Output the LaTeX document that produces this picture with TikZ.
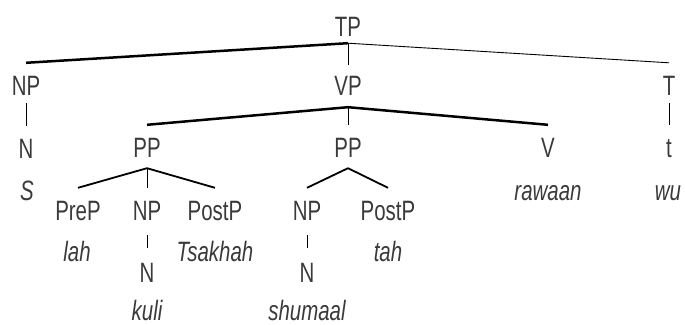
\documentclass[tikz,border=0pt]{standalone}
\usepackage{fontspec}
\setmainfont{Liberation Sans}[FakeStretch=0.73]
\definecolor{labgray}{RGB}{58,58,58}
\begin{document}
\begin{tikzpicture}[x=1pt,y=-1pt,
  cat/.style={anchor=base,inner sep=0pt,text height=32pt,text depth=8pt,
    text=labgray,font=\fontsize{28}{32}\selectfont},
  word/.style={anchor=base,inner sep=0pt,text=labgray,
    font=\fontsize{28}{32}\selectfont\itshape},
  heavy/.style={line width=2.5pt},
  medium/.style={line width=1.8pt},
  stem/.style={line width=0.9pt}]
\useasboundingbox (0,0) rectangle (685,324);

% category labels and words
\node[cat] (tp) at (348,36) {TP};
\node[cat] (np1) at (26,95) {NP};
\node[cat] (vp) at (348,95) {VP};
\node[cat] (t1) at (669,95) {T};
\node[cat] (n1) at (26,158) {N};
\node[word] (s) at (27,200) {S};
\node[cat] (pp1) at (147,157) {PP};
\node[cat] (pp2) at (348,157) {PP};
\node[cat] (v) at (548,157) {V};
\node[cat] (t2) at (669,157) {t};
\node[word] (rawaan) at (548,200) {rawaan};
\node[word] (wu) at (668,200) {wu};
\node[cat] (prep) at (78,220) {PreP};
\node[cat] (np2) at (147,220) {NP};
\node[cat] (postp1) at (215,220) {PostP};
\node[cat] (np3) at (307,220) {NP};
\node[cat] (postp2) at (388,220) {PostP};
\node[word] (lah) at (77,261) {lah};
\node[word] (tsakhah) at (215,261) {Tsakhah};
\node[word] (tah) at (388,261) {tah};
\node[cat] (n2) at (147,282) {N};
\node[cat] (n3) at (307,282) {N};
\node[word] (kuli) at (147,320) {kuli};
\node[word] (shumaal) at (307,320) {shumaal};

% branches
\draw[heavy] ([yshift=1pt]tp.south) -- (np1.north);
\draw[stem] ([yshift=1pt]tp.south) -- ([yshift=-2pt]vp.north);
\draw[stem] ([yshift=1pt]tp.south) -- (t1.north);
\draw[stem] (np1.south) -- (n1.north);
\draw[stem] (t1.south) -- (t2.north);

\draw[heavy] ([yshift=-4pt]vp.south) -- (pp1.north);
\draw[stem] ([yshift=-4pt]vp.south) -- (pp2.north);
\draw[heavy] ([yshift=-4pt]vp.south) -- (v.north);

\draw[medium] ([yshift=-3pt]pp1.south) -- (prep.north);
\draw[stem] ([yshift=-3pt]pp1.south) -- (np2.north);
\draw[medium] ([yshift=-3pt]pp1.south) -- (postp1.north);
\draw[stem] ([yshift=-7pt]np2.south) -- ([yshift=2pt]n2.north);

\draw[medium] ([yshift=-3pt]pp2.south) -- (np3.north);
\draw[medium] ([yshift=-3pt]pp2.south) -- (postp2.north);
\draw[stem] ([yshift=-7pt]np3.south) -- ([yshift=2pt]n3.north);
\end{tikzpicture}
\end{document}
